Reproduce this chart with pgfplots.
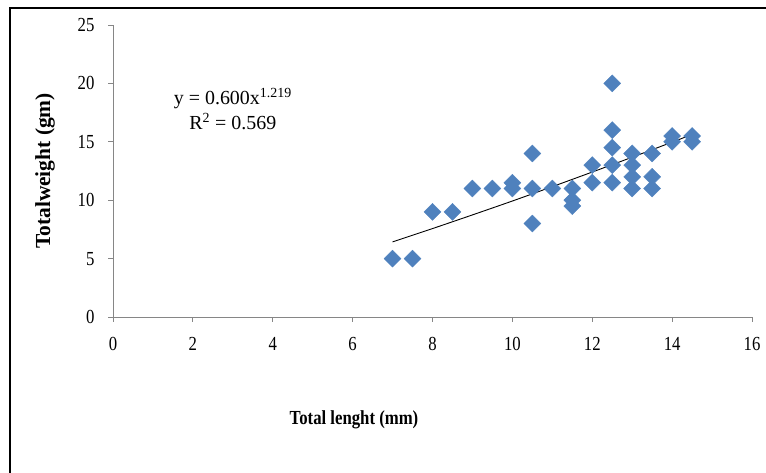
\documentclass[border=0pt]{standalone}
\usepackage{pgfplots}
\pgfplotsset{compat=1.18}
\usepackage{fontspec}
\setmainfont{Liberation Serif}
\newfontfamily\narrow[FakeStretch=0.84]{Liberation Serif}
\definecolor{ptblue}{HTML}{4F81BD}
\definecolor{axgray}{HTML}{868686}
\begin{document}
\begin{tikzpicture}[x=1bp,y=1bp]
\useasboundingbox (0,0) rectangle (766,473);
% frame, only top and left edges show in the source
\draw[black,line width=1.6bp] (10,0) -- (10,465) -- (766,465);
\begin{axis}[
    at={(113bp,156bp)}, anchor=south west,
    scale only axis,
    width=639bp, height=292bp,
    xmin=0, xmax=16, ymin=0, ymax=25,
    xtick={0,2,...,16}, ytick={0,5,...,25},
    axis x line*=bottom, axis y line*=left,
    axis line style={axgray,line width=0.8bp,-},
    tick style={axgray,line width=0.8bp},
    tick align=outside, major tick length=5bp,
    font=\fontsize{20}{23}\narrow,
    /pgf/number format/assume math mode=true,
    xticklabel style={yshift=-12bp},
    yticklabel style={xshift=-10bp},
    clip=false,
]
\addplot[only marks, mark=square*, mark size=6bp,
    mark options={rotate=45, fill=ptblue, draw=ptblue}] coordinates {
    (7,5) (7.5,5)
    (8,9) (8.5,9)
    (9,11) (9.5,11)
    (10,11.5) (10,11)
    (10.5,14) (10.5,11) (10.5,8)
    (11,11)
    (11.5,11) (11.5,10) (11.5,9.5)
    (12,13) (12,11.5)
    (12.5,20) (12.5,16) (12.5,14.5) (12.5,13) (12.5,11.5)
    (13,14) (13,13) (13,12) (13,11)
    (13.5,14) (13.5,12) (13.5,11)
    (14,15.5) (14,15)
    (14.5,15.5) (14.5,15)
};
% power trend line y = 0.600 x^1.219
\addplot[black, line width=0.9bp, smooth] coordinates {
    (7,6.43) (8,7.57) (9,8.74) (10,9.93) (11,11.16)
    (12,12.41) (13,13.68) (14,14.97) (14.5,15.63)
};
\node[align=center, font=\fontsize{20}{25}\rmfamily, inner sep=0pt]
    at (axis cs:3.0,17.8) {y = 0.600x\textsuperscript{1.219}\\R\textsuperscript{2} = 0.569};
\end{axis}
\node[font=\fontsize{20}{23}\narrow\bfseries] at (354,53) {Total lenght (mm)};
\node[font=\fontsize{21.5}{24}\rmfamily\bfseries, rotate=90] at (45,302) {Totalweight (gm)};
\end{tikzpicture}
\end{document}
